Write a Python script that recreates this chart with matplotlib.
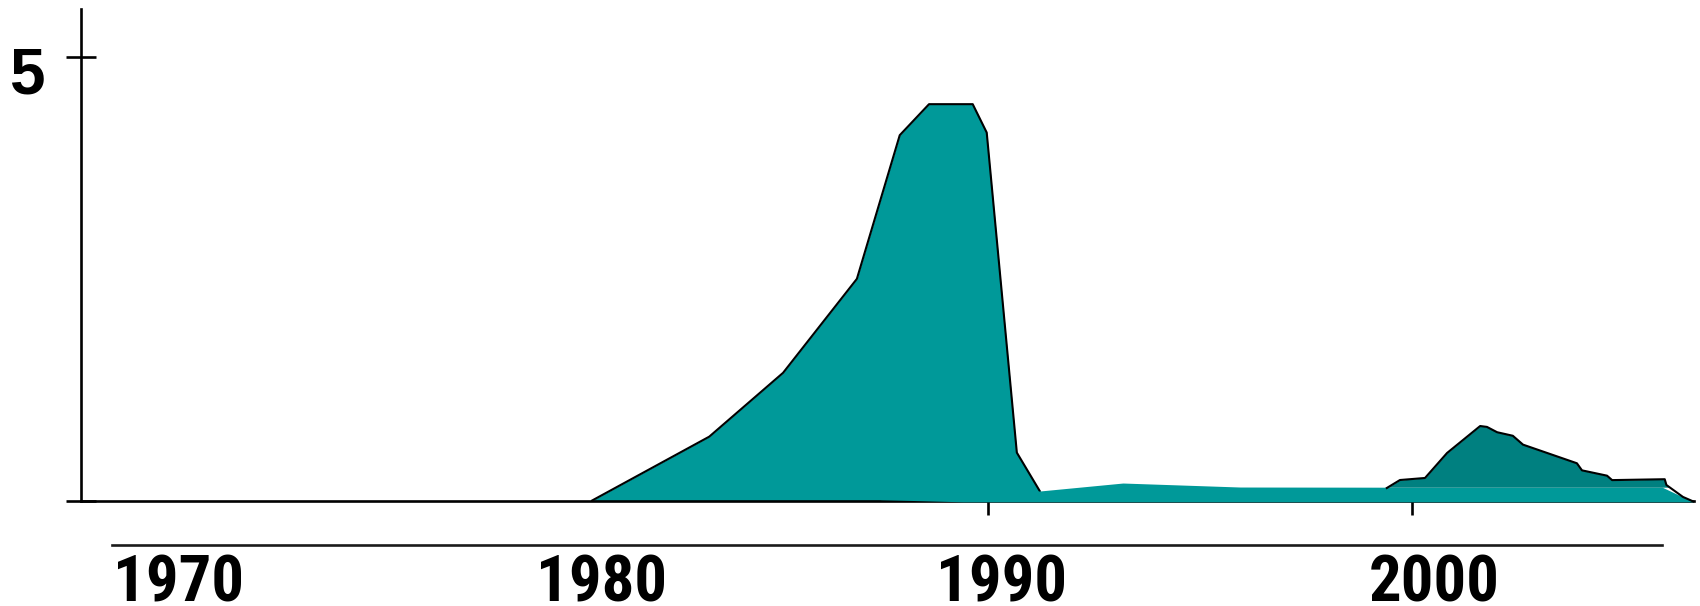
import matplotlib
matplotlib.use('Agg')
import matplotlib.pyplot as plt
from matplotlib import font_manager as fm
from matplotlib.font_manager import FontProperties
from matplotlib.textpath import TextPath
from matplotlib.transforms import ScaledTranslation

plt.rcParams['font.family'] = ['Liberation Sans', 'DejaVu Sans']

# big peak (outlined)
peak_years = [1980.68, 1983.44, 1985.18, 1986.92, 1987.93, 1988.62, 1989.65,
              1989.98, 1990.69, 1991.23]
peak_vals = [0.0, 0.72, 1.44, 2.50, 4.12, 4.47, 4.47, 4.15, 0.54, 0.107]

# thin band along the bottom (no outline)
band_years = [1987.46, 1989.42, 1991.23, 1993.19, 1995.95, 1999.43, 2005.90, 2006.63]
band_top = [0.01, 0.08, 0.107, 0.197, 0.152, 0.15, 0.15, -0.015]
band_bottom = [0.01, -0.015, -0.015, -0.015, -0.015, -0.015, -0.015, -0.015]

# small dark bump sitting on the band
bump_years = [1999.41, 1999.72, 2000.31, 2000.83, 2001.61, 2001.77, 2002.01,
              2002.38, 2002.62, 2003.89, 2004.01, 2004.60, 2004.72, 2005.96,
              2006.00, 2006.39, 2006.63]
bump_vals = [0.141, 0.231, 0.254, 0.536, 0.84, 0.83, 0.77, 0.73, 0.63, 0.42,
             0.34, 0.28, 0.23, 0.24, 0.175, 0.04, -0.01]
bump_base = 0.15

# lower year labels
label_pos = [1970.93, 1980.91, 1990.34, 2000.52]
label_text = ['1970', '1980', '1990', '2000']

teal = '#009999'
dark_teal = '#008080'


# the lower labels are in a condensed bold face; use one if installed
def pick_label_font():
    wanted = ['liberation sans narrow', 'arial narrow', 'roboto condensed',
              'noto sans condensed', 'open sans condensed', 'dejavu sans condensed']
    found = {}
    for f in fm.fontManager.ttflist:
        key = f.name.lower()
        fname = f.fname.lower()
        bold = (f.weight in ('bold', 700) or 'bold' in fname) and 'semi' not in fname \
            and 'extra' not in fname and 'italic' not in fname and 'oblique' not in fname
        if not bold:
            continue
        for w in wanted:
            tag = w.replace(' ', '')
            if key == w or tag in fname.replace('-', '').replace('_', ''):
                found.setdefault(w, f.fname)
    for w in wanted:
        if w in found:
            return FontProperties(fname=found[w])
    return FontProperties(family='Liberation Sans', weight='bold')


label_prop = pick_label_font()
ink_w = TextPath((0, 0), '1970', size=100, prop=label_prop).get_extents().width
label_size = 100 * (123 * 0.72) / ink_w
label_prop.set_size(label_size)

W, H = 1700, 606
fig = plt.figure(figsize=(W / 100, H / 100), dpi=100)
ax = fig.add_axes([81.3 / W, (H - 500.5) / H, (1694 - 81.3) / W, (500.5 - 9.3) / H])
ax.set_xlim(1968.64, 2006.65)
ax.set_ylim(0, 5.54)

ax.fill_between(peak_years, peak_vals, 0, color=teal, lw=0, zorder=2)
ax.plot(peak_years, peak_vals, color='black', lw=1.5, zorder=2.2)

ax.fill_between(band_years, band_top, band_bottom, color=teal, lw=0,
                zorder=3, clip_on=False)

ax.fill_between(bump_years, bump_vals, bump_base,
                where=[v >= bump_base for v in bump_vals], interpolate=True,
                color=dark_teal, lw=0, zorder=3.5, clip_on=False)
ax.plot(bump_years, bump_vals, color='black', lw=1.5, zorder=4, clip_on=False)

for s in ['top', 'right']:
    ax.spines[s].set_visible(False)
for s in ['left', 'bottom']:
    ax.spines[s].set_linewidth(1.9)
    ax.spines[s].set_color('black')

ax.set_yticks([0, 5])
ax.set_yticklabels(['', '5'])
ax.tick_params(axis='y', direction='inout', length=21, width=1.9, pad=15.7,
               labelsize=46)
for lab in ax.get_yticklabels():
    lab.set_fontweight('bold')
    lab.set_va('baseline')
    lab.set_transform(lab.get_transform() +
                      ScaledTranslation(0, -0.367, fig.dpi_scale_trans))

ax.set_xticks([1990, 2000])
ax.set_xticklabels([])
ax.tick_params(axis='x', direction='out', length=10, width=1.9)
ax.patch.set_visible(False)

# separate label axis below
ax2 = fig.add_axes([112 / W, (H - 545) / H, (1662 - 112) / W, 0.001])
ax2.set_xlim(1969.37, 2005.89)
for s in ['top', 'right', 'left']:
    ax2.spines[s].set_visible(False)
ax2.spines['bottom'].set_linewidth(1.9)
ax2.spines['bottom'].set_color('#1a1a1a')
ax2.set_yticks([])
ax2.set_xticks(label_pos)
ax2.set_xticklabels(label_text, fontproperties=label_prop)
ax2.tick_params(axis='x', length=0, pad=5.8)
ax2.patch.set_visible(False)

fig.savefig('out.png', dpi=100)
